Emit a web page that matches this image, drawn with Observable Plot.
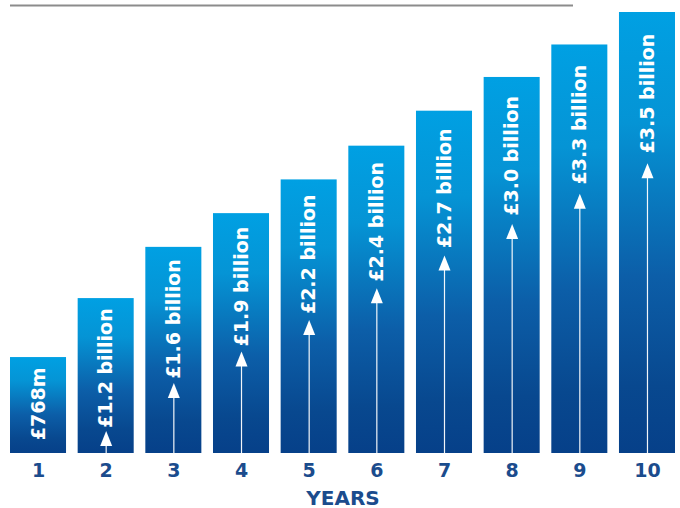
<!DOCTYPE html>
<html>
<head>
<meta charset="utf-8">
<script src="https://cdn.jsdelivr.net/npm/d3@7"></script>
<script src="https://cdn.jsdelivr.net/npm/@observablehq/plot@0.6"></script>
<style>
  html, body { margin: 0; padding: 0; background: #fff; }
  #chart svg { display: block; }
</style>
</head>
<body>
<div id="chart"></div>
<script>
// ---- data ----
const years = [1, 2, 3, 4, 5, 6, 7, 8, 9, 10];
const values = [0.768, 1.24, 1.65, 1.92, 2.19, 2.46, 2.74, 3.01, 3.27, 3.53]; // £ billion
const labels = ["£768m", "£1.2 billion", "£1.6 billion", "£1.9 billion", "£2.2 billion",
                "£2.4 billion", "£2.7 billion", "£3.0 billion", "£3.3 billion", "£3.5 billion"];
const axisTitle = "YEARS";
const yTop = 3.586;

// ---- layout ----
const W = 680, H = 508, mT = 5, mB = 55, mL = 10, mR = 5;
const k = (H - mT - mB) / yTop; // px per £bn

const rows = years.map((year, i) => {
  const v = values[i];
  const labelY = v - (i === 0 ? 10 : 3.5 + 5 * v) / k;   // top of rotated label
  const gap = 119 + 3 * v;                                 // label length + gap to arrow tip
  const tipY = labelY - gap / k;
  return {year, value: v, label: labels[i], labelY, tipY, baseY: tipY - 14 / k, arrow: i > 0};
});
const arrows = rows.filter(d => d.arrow);

const arrowHead = {
  draw(ctx) {
    ctx.moveTo(0, 0);
    ctx.lineTo(6, 15);
    ctx.lineTo(-6, 15);
    ctx.closePath();
  }
};

const font = "DejaVu Sans";
const navy = "#1b4c8d";

const chart = Plot.plot({
  width: W,
  height: H,
  marginTop: mT,
  marginBottom: mB,
  marginLeft: mL,
  marginRight: mR,
  style: {fontFamily: font, background: "#fff"},
  x: {type: "band", domain: years, paddingInner: 0.172, paddingOuter: 0, round: false, axis: null},
  y: {domain: [0, yTop], axis: null},
  marks: [
    Plot.ruleY([yTop], {stroke: "#8c8c8c", strokeWidth: 2, insetRight: 102}),
    Plot.barY(rows, {x: "year", y: "value", fill: "url(#barGrad)"}),
    Plot.ruleX(arrows, {x: "year", y1: 0, y2: "baseY", stroke: "#ffffff", strokeWidth: 1.2, strokeOpacity: 0.95}),
    Plot.dot(arrows, {x: "year", y: "tipY", symbol: arrowHead, r: 5, fill: "#ffffff", stroke: null}),
    Plot.text(rows, {x: "year", y: "labelY", text: "label", rotate: -90, textAnchor: "end", lineAnchor: "middle",
      fill: "#ffffff", fontSize: 19, fontWeight: "bold", fontFamily: font}),
    Plot.text(years, {x: d => d, frameAnchor: "bottom", text: d => String(d), lineAnchor: "bottom", dy: 23,
      fill: navy, fontSize: 19, fontWeight: "bold", fontFamily: font}),
    Plot.text([axisTitle], {frameAnchor: "bottom", text: d => d, lineAnchor: "bottom", dy: 51,
      fill: navy, fontSize: 20, fontWeight: "bold", fontFamily: font})
  ]
});

// gradient definition (per-bar, top light to bottom dark)
const ns = "http://www.w3.org/2000/svg";
const defs = document.createElementNS(ns, "defs");
const grad = document.createElementNS(ns, "linearGradient");
grad.setAttribute("id", "barGrad");
grad.setAttribute("x1", "0"); grad.setAttribute("y1", "0");
grad.setAttribute("x2", "0"); grad.setAttribute("y2", "1");
[[0, "#00a0e3"], [0.25, "#0594d5"], [0.6, "#0c5ea8"], [0.85, "#08488f"], [1, "#064089"]].forEach(([o, c]) => {
  const s = document.createElementNS(ns, "stop");
  s.setAttribute("offset", o);
  s.setAttribute("stop-color", c);
  grad.appendChild(s);
});
defs.appendChild(grad);
chart.insertBefore(defs, chart.firstChild);

document.getElementById("chart").appendChild(chart);
</script>
</body>
</html>
